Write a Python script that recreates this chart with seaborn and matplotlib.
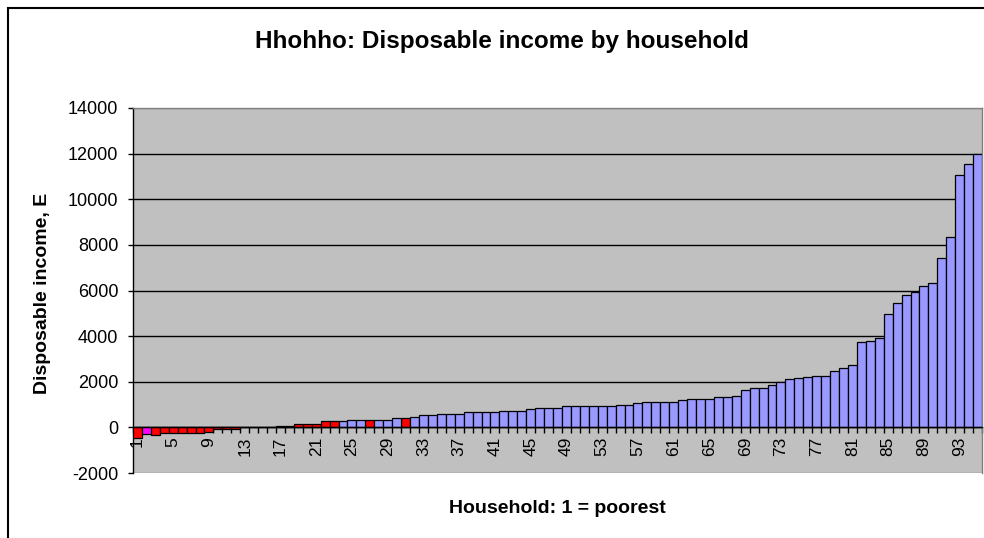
import numpy as np
import pandas as pd
import seaborn as sns
import matplotlib.pyplot as plt
from matplotlib.patches import Rectangle

# household number, 1 = poorest
households = list(range(1, 96))
income = [
    -480, -300, -320, -260, -260, -255, -255, -250, -190, -60,
    -60, -55, 0, 0, 0, 0, 50, 60, 150, 150,
    150, 260, 260, 260, 320, 320, 320, 320, 320, 400,
    400, 470, 540, 540, 600, 600, 600, 660, 660, 660,
    660, 730, 730, 730, 790, 860, 860, 860, 930, 930,
    930, 930, 930, 930, 990, 990, 1060, 1120, 1120, 1120,
    1120, 1180, 1250, 1250, 1250, 1310, 1310, 1380, 1650, 1720,
    1720, 1860, 1980, 2100, 2180, 2190, 2260, 2270, 2470, 2600,
    2730, 3730, 3800, 3920, 4950, 5470, 5820, 5930, 6210, 6340,
    7420, 8340, 11080, 11540, 12000,
]
red_households = [1] + list(range(3, 24)) + [27, 31]
magenta_households = [2]
groups = ["magenta" if h in magenta_households else "red" if h in red_households else "blue"
          for h in households]
palette = {"blue": "#9999FF", "red": "#FF0000", "magenta": "#FF00FF"}

y_ticks = list(range(-2000, 14001, 2000))
x_label_every = 4

sns.set_style("ticks")
plt.rcParams["font.family"] = ["Liberation Sans", "DejaVu Sans"]
plt.rcParams["text.color"] = "black"
plt.rcParams["xtick.color"] = "black"
plt.rcParams["ytick.color"] = "black"

dfr = pd.DataFrame({"household": households, "income": income, "group": groups})

fig = plt.figure(figsize=(9.84, 5.38), dpi=100)
ax = fig.add_axes([133 / 984, 1 - 473 / 538, (982 - 133) / 984, (473 - 108) / 538])
ax.set_facecolor("#C0C0C0")

sns.barplot(data=dfr, x="household", y="income", hue="group", palette=palette,
            dodge=False, width=1.0, saturation=1, edgecolor="black", linewidth=0.9,
            legend=False, ax=ax, zorder=3)

ax.set_xlim(-0.5, len(households) - 0.5)
ax.set_ylim(y_ticks[0], y_ticks[-1])
ax.set_yticks(y_ticks)
ax.set_yticklabels([str(t) for t in y_ticks])
ax.yaxis.grid(True, color="black", linewidth=1.0)
ax.set_axisbelow(True)
gls = ax.get_ygridlines()
gls[0].set_color("#808080")
gls[-1].set_color("#808080")

pos = np.arange(0, len(households), x_label_every)
ax.set_xticks(pos)
ax.set_xticklabels([str(households[i]) for i in pos])
ax.set_xticks(np.arange(len(households) + 1) - 0.5, minor=True)
ax.tick_params(axis="x", which="major", length=0, pad=7, labelsize=12.5,
               labelrotation=90, labelcolor="black")
ax.tick_params(axis="x", which="minor", length=4.5, width=1, color="black", direction="out")
ax.tick_params(axis="y", length=3.6, width=1, color="black", pad=7, labelsize=13,
               labelcolor="black")
ax.set_xlabel("")
ax.set_ylabel("")

ax.spines["bottom"].set_position(("data", 0))
ax.spines["bottom"].set_color("black")
ax.spines["bottom"].set_zorder(4)
ax.spines["left"].set_color("black")
ax.spines["top"].set_color("#808080")
ax.spines["right"].set_color("#808080")
for s in ax.spines.values():
    s.set_linewidth(1.0)
    s.set_visible(True)

fig.text(502 / 984, 1 - 48 / 538, "Hhohho: Disposable income by household",
         ha="center", va="baseline", fontsize=17.5, fontweight="bold", color="black")
fig.text(42.5 / 984, 1 - 293 / 538, "Disposable income, E", rotation=90,
         ha="center", va="center", fontsize=14, fontweight="bold", color="black")
fig.text(557 / 984, 1 - 513 / 538, "Household: 1 = poorest",
         ha="center", va="baseline", fontsize=14, fontweight="bold", color="black")

fig.add_artist(Rectangle((7.5 / 984, -0.1), 2, 1.1 - 7.5 / 538, transform=fig.transFigure,
                         fill=False, edgecolor="black", linewidth=1.5))

plt.savefig("out.png", dpi=100)
